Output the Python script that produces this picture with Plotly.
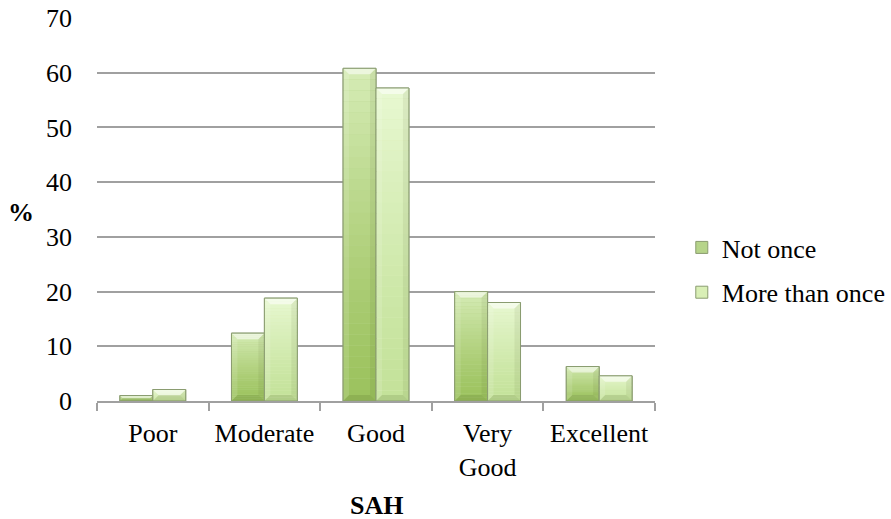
import plotly.graph_objects as go

categories = ["Poor", "Moderate", "Good", "Very<br>Good", "Excellent"]
not_once = [1.0, 12.4, 60.8, 20.0, 6.3]
more_than_once = [2.1, 18.8, 57.2, 18.0, 4.6]
y_ticks = [0, 10, 20, 30, 40, 50, 60, 70]

FONT = "Liberation Serif"
EDGE = "#8a9c70"
W, H = 891, 519
MARGIN = dict(l=97, r=236, t=18, b=118)
Y_MAX = 70
BARGAP = 0.41

# series styling: (bottom colour, top colour) of the vertical gradient
SERIES = [
    ("Not once", not_once, "#9cc25e", "#d6ecb6", "#b6d48a"),
    ("More than once", more_than_once, "#c4e29a", "#e8f8d2", "#d9efb6"),
]

plot_w = W - MARGIN["l"] - MARGIN["r"]
plot_h = H - MARGIN["t"] - MARGIN["b"]
bar_w = (1 - BARGAP) / len(SERIES)          # bar width in category units
px_per_cat = plot_w / len(categories)


def mix(c1, c2, t):
    a = [int(c1[i:i + 2], 16) for i in (1, 3, 5)]
    b = [int(c2[i:i + 2], 16) for i in (1, 3, 5)]
    return "#" + "".join(f"{round(a[k] + (b[k] - a[k]) * t):02x}" for k in range(3))


fig = go.Figure()
shapes = []
for s, (name, values, c_bot, c_top, c_mid) in enumerate(SERIES):
    fig.add_trace(go.Bar(
        name=name, x=categories, y=values, legendgroup=name,
        marker=dict(color=c_mid, line=dict(color=EDGE, width=1)),
    ))
    for i, v in enumerate(values):
        x0 = i - (1 - BARGAP) / 2 + s * bar_w
        x1 = x0 + bar_w
        # vertical gradient fill built from thin bands
        n = 30
        for k in range(n):
            t = (k + 0.5) / n
            shapes.append(dict(
                type="rect", xref="x", yref="y", layer="above",
                x0=x0, x1=x1, y0=v * k / n, y1=v * (k + 1) / n,
                line=dict(width=0), fillcolor=mix(c_bot, c_top, t ** 1.3),
            ))
        # bevelled edges
        h_px = v / Y_MAX * plot_h
        b = min(6.0, h_px / 2)
        bx = b / px_per_cat
        top = f"M{x0},0 L{x1},0 L{x1 - bx},{-b} L{x0 + bx},{-b} Z"
        bottom = f"M{x0},0 L{x1},0 L{x1 - bx},{b} L{x0 + bx},{b} Z"
        left = f"M{x0},0 L{x0 + bx},{b} L{x0 + bx},{h_px - b} L{x0},{h_px} Z"
        right = f"M{x1},0 L{x1 - bx},{b} L{x1 - bx},{h_px - b} L{x1},{h_px} Z"
        for path, anchor, col in [
            (top, v, "rgba(255,255,255,0.55)"),
            (bottom, 0, "rgba(60,80,20,0.14)"),
            (left, 0, "rgba(255,255,255,0.12)"),
            (right, 0, "rgba(60,80,20,0.08)"),
        ]:
            shapes.append(dict(
                type="path", xref="x", yref="y", ysizemode="pixel",
                yanchor=anchor, path=path, layer="above",
                line=dict(width=0), fillcolor=col,
            ))
        shapes.append(dict(
            type="rect", xref="x", yref="y", layer="above",
            x0=x0, x1=x1, y0=0, y1=v,
            line=dict(color=EDGE, width=1), fillcolor="rgba(0,0,0,0)",
        ))

fig.update_layout(
    width=W, height=H,
    margin=dict(**MARGIN, autoexpand=False),
    paper_bgcolor="white", plot_bgcolor="white",
    font=dict(family=FONT, size=26, color="black"),
    barmode="group", bargap=BARGAP, bargroupgap=0,
    shapes=shapes,
    legend=dict(x=1.048, y=0.342, xanchor="left", yanchor="middle",
                tracegroupgap=8, itemwidth=30,
                font=dict(family=FONT, size=26)),
    xaxis=dict(showgrid=False, showline=True, linecolor="#a0a0a0", linewidth=2,
               ticks="outside", tickson="boundaries", ticklen=8,
               tickcolor="#a0a0a0", tickwidth=2, ticklabelstandoff=8,
               tickangle=0, automargin=False,
               tickfont=dict(family=FONT, size=26)),
    yaxis=dict(range=[0, Y_MAX], tickvals=y_ticks, showgrid=True,
               gridcolor="#a0a0a0", gridwidth=2, zeroline=False,
               showline=False, ticks="", ticklabelstandoff=24,
               automargin=False, tickfont=dict(family=FONT, size=26)),
    annotations=[
        dict(text="<b>%</b>", xref="paper", yref="paper", x=-0.136, y=0.493,
             xanchor="center", yanchor="middle", showarrow=False,
             font=dict(family=FONT, size=26)),
        dict(text="<b>SAH</b>", xref="paper", yref="paper", x=0.5, y=-0.272,
             xanchor="center", yanchor="middle", showarrow=False,
             font=dict(family=FONT, size=26)),
    ],
)

fig.write_html("out.html")
